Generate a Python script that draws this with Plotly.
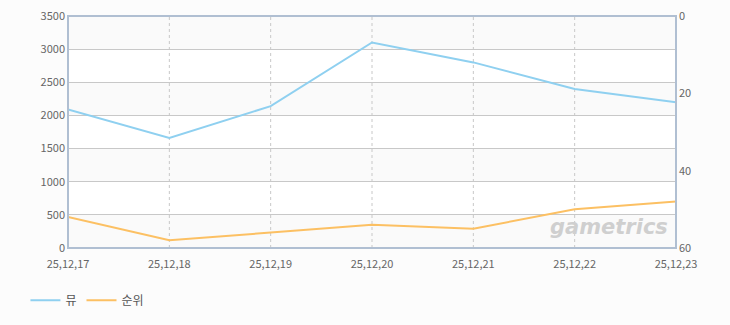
import plotly.graph_objects as go

dates = ["25,12,17", "25,12,18", "25,12,19", "25,12,20", "25,12,21", "25,12,22", "25,12,23"]
views = [2090, 1660, 2140, 3100, 2800, 2400, 2200]
ranks = [52, 58, 56, 54, 55, 50, 48]
left_ticks = [0, 500, 1000, 1500, 2000, 2500, 3000, 3500]
right_ticks = [0, 20, 40, 60]
series_names = ["뮤", "순위"]

BLUE = "#8fd0f0"
ORANGE = "#fcc063"
FONT = "Noto Sans CJK KR, DejaVu Sans, sans-serif"

fig = go.Figure()
fig.add_trace(go.Scatter(x=dates, y=views, name=series_names[0], mode="lines",
                         line=dict(color=BLUE, width=2), yaxis="y", hoverinfo="skip"))
fig.add_trace(go.Scatter(x=dates, y=ranks, name=series_names[1], mode="lines",
                         line=dict(color=ORANGE, width=2), yaxis="y2", hoverinfo="skip"))

shapes = []
# alternating bands
for i in range(0, len(left_ticks) - 1, 2):
    shapes.append(dict(type="rect", xref="paper", yref="y", x0=0, x1=1,
                       y0=left_ticks[i], y1=left_ticks[i + 1],
                       fillcolor="#fafafa", line=dict(width=0), layer="below"))
# vertical dashed grid lines
for d in dates[1:-1]:
    shapes.append(dict(type="line", xref="x", yref="paper", x0=d, x1=d, y0=0, y1=1,
                       line=dict(color="#c8c8c8", width=1, dash="3px,3px"), layer="below"))
# frame
shapes.append(dict(type="rect", xref="paper", yref="paper", x0=0, x1=1, y0=0, y1=1,
                   line=dict(color="#b0bfd2", width=2), layer="above"))

fig.update_layout(
    width=730, height=325,
    margin=dict(l=68, r=54, t=16, b=77, autoexpand=False),
    paper_bgcolor="#fcfcfc",
    plot_bgcolor="#ffffff",
    font=dict(family=FONT, size=11, color="#666666"),
    showlegend=True,
    legend=dict(orientation="h", x=-0.07, y=-0.225, xanchor="left", yanchor="middle",
                font=dict(size=12, color="#555555"), bgcolor="rgba(0,0,0,0)",
                tracegroupgap=0),
    xaxis=dict(type="category", range=[0, len(dates) - 1], showgrid=False,
               showline=False, zeroline=False, ticks="", tickfont=dict(size=11),
               ticklabelstandoff=8),
    yaxis=dict(range=[0, 3500], tickvals=left_ticks, showgrid=True,
               gridcolor="#c8c8c8", gridwidth=1, zeroline=False, showline=False,
               ticks="", tickfont=dict(size=11), ticklabelstandoff=2),
    yaxis2=dict(range=[60, 0], tickvals=right_ticks, overlaying="y", side="right",
                showgrid=False, zeroline=False, showline=False, ticks="",
                tickfont=dict(size=11), ticklabelstandoff=2),
    shapes=shapes,
    annotations=[dict(text="<b><i>gametrics</i></b>", xref="paper", yref="paper",
                      x=0.99, y=0.03, xanchor="right", yanchor="bottom",
                      showarrow=False,
                      font=dict(family="DejaVu Sans, sans-serif", size=21, color="#cfcfcf"))],
)

fig.write_html("out.html")
